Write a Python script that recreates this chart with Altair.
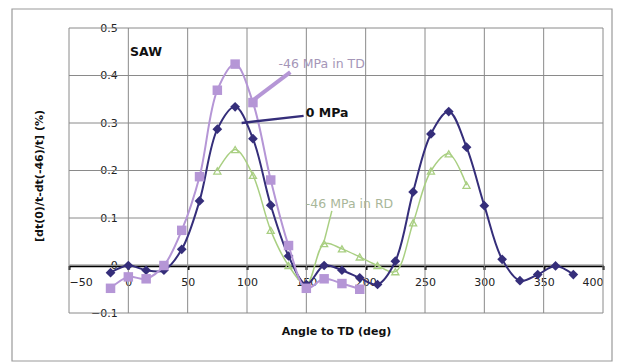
import altair as alt
import pandas as pd

# ---- data ----
angles_0 = [-15, 0, 15, 30, 45, 60, 75, 90, 105, 120, 135, 150, 165, 180, 195, 210,
            225, 240, 255, 270, 285, 300, 315, 330, 345, 360, 375]
vals_0 = [-0.015, 0.0, -0.01, -0.01, 0.034, 0.136, 0.287, 0.334, 0.267, 0.127, 0.02,
          -0.04, 0.0, -0.01, -0.026, -0.04, 0.009, 0.155, 0.277, 0.324, 0.249, 0.126,
          0.013, -0.032, -0.019, -0.001, -0.019]

angles_td = [-15, 0, 15, 30, 45, 60, 75, 90, 105, 120, 135, 150, 165, 180, 195]
vals_td = [-0.048, -0.024, -0.028, 0.0, 0.074, 0.187, 0.369, 0.424, 0.343, 0.18,
           0.042, -0.048, -0.028, -0.038, -0.05]

angles_rd = [75, 90, 105, 120, 135, 150, 165, 180, 195, 210, 225, 240, 255, 270, 285]
vals_rd = [0.199, 0.244, 0.19, 0.074, 0.0, -0.04, 0.046, 0.035, 0.018, 0.0, -0.013,
           0.09, 0.199, 0.235, 0.169]

x_ticks = [-50, 0, 50, 100, 150, 200, 250, 300, 350, 400]
y_ticks = [-0.1, 0, 0.1, 0.2, 0.3, 0.4, 0.5]

# annotation labels (data coordinates): SAW, 0 MPa, TD, RD
label_text = ["SAW", "0 MPa", "-46 MPa in TD", "-46 MPa in RD"]
label_x = [1.5, 149.5, 126.5, 149.5]
label_y = [0.45, 0.321, 0.425, 0.129]
# leader lines: TD, 0 MPa, RD ; start (x, y) -> end (x2, y2)
lead_x = [103, 95.5, 164.5]
lead_y = [0.344, 0.30, 0.046]
lead_x2 = [136.5, 147.7, 171.5]
lead_y2 = [0.407, 0.315, 0.115]

C0 = "#352e7a"
CTD = "#b596d6"
CRD = "#a9cf82"

W, H = 534, 285
XDOM = [-50, 400]
YDOM = [-0.1, 0.5]
FONT = "DejaVu Sans"

xs = alt.Scale(domain=XDOM, nice=False, zero=False)
ys = alt.Scale(domain=YDOM, nice=False, zero=False)

x_off = -(H * (0 - YDOM[0]) / (YDOM[1] - YDOM[0]))        # move x axis to y=0
y_off = -(W * (0 - XDOM[0]) / (XDOM[1] - XDOM[0]))        # move y axis to x=0

df0 = pd.DataFrame({"a": angles_0, "v": vals_0})
dftd = pd.DataFrame({"a": angles_td, "v": vals_td})
dfrd = pd.DataFrame({"a": angles_rd, "v": vals_rd})
dfx = pd.DataFrame({"g": x_ticks})
dfy = pd.DataFrame({"g": y_ticks})

frame = alt.Chart(pd.DataFrame({"k": [0]})).mark_rect(
    fill=None, stroke="#9a9a9a", strokeWidth=1.2
).encode(x=alt.value(12 - 69), x2=alt.value(612 - 69),
         y=alt.value(9 - 28), y2=alt.value(361 - 28))

vgrid = alt.Chart(dfx).mark_rule(color="#8a8a8a", strokeWidth=1).encode(
    x=alt.X("g:Q", scale=xs,
            axis=alt.Axis(values=x_ticks, format="d", grid=False, offset=x_off,
                          domainColor="black", domainWidth=2.5,
                          tickColor="black", tickSize=4, tickWidth=2,
                          labelPadding=7, labelFontSize=11, labelColor="#222",
                          labelFont=FONT,
                          title="Angle to TD (deg)", titleFont=FONT, titleFontSize=11,
                          titleFontWeight="bold", titleColor="#111",
                          titleX=W / 2, titleY=331 - 28 - (H + x_off),
                          titleBaseline="middle", titleAlign="center"))
)
hgrid = alt.Chart(dfy).mark_rule(color="#8a8a8a", strokeWidth=1).encode(
    y=alt.Y("g:Q", scale=ys,
            axis=alt.Axis(values=y_ticks, grid=False, offset=y_off, domain=False,
                          ticks=False, labelPadding=11, labelFontSize=11,
                          labelColor="#222", labelFont=FONT,
                          labelExpr="datum.value == 0 ? '0' : format(datum.value, '.1f')",
                          title="[dt(0)/t-dt(-46)/t] (%)", titleFont=FONT,
                          titleFontSize=11, titleFontWeight="bold", titleColor="#111",
                          titleAngle=270, titleX=40 - 69 + y_off, titleY=H / 2 + 5,
                          titleBaseline="middle", titleAlign="center"))
)


def series(df, color, shape, size, filled, width):
    base = alt.Chart(df).encode(x=alt.X("a:Q", scale=xs), y=alt.Y("v:Q", scale=ys))
    line = base.mark_line(color=color, strokeWidth=width, interpolate="catmull-rom")
    pts = base.mark_point(shape=shape, size=size, filled=filled, color=color,
                          opacity=1, strokeWidth=1.3)
    return line + pts


s_rd = series(dfrd, CRD, "triangle-up", 50, False, 1.5)
s_0 = series(df0, C0, "diamond", 95, True, 2)
s_td = series(dftd, CTD, "square", 90, True, 2)


def leader(i, color, width):
    d = pd.DataFrame({"x": [lead_x[i]], "y": [lead_y[i]],
                      "x2": [lead_x2[i]], "y2": [lead_y2[i]]})
    return alt.Chart(d).mark_rule(color=color, strokeWidth=width).encode(
        x=alt.X("x:Q", scale=xs), y=alt.Y("y:Q", scale=ys), x2="x2:Q", y2="y2:Q")


def label(i, color, weight):
    d = pd.DataFrame({"x": [label_x[i]], "y": [label_y[i]], "t": [label_text[i]]})
    return alt.Chart(d).mark_text(align="left", baseline="middle", font=FONT,
                                  fontSize=12.5, fontWeight=weight, color=color).encode(
        x=alt.X("x:Q", scale=xs), y=alt.Y("y:Q", scale=ys), text="t:N")


layers = [frame, vgrid, hgrid, s_rd, s_0, s_td,
          leader(0, CTD, 4), leader(1, C0, 2.5), leader(2, CRD, 1.5),
          label(0, "#111", "bold"), label(1, "#111", "bold"),
          label(2, "#a596b8", "normal"), label(3, "#a9b79a", "normal")]

chart = alt.layer(*layers).properties(
    width=W, height=H,
    autosize=alt.AutoSizeParams(type="none"),
    padding={"left": 69, "top": 28, "right": 18, "bottom": 49},
    background="white",
).configure_view(stroke=None)

chart.save("out.html", embed_options={"renderer": "svg", "actions": False})
